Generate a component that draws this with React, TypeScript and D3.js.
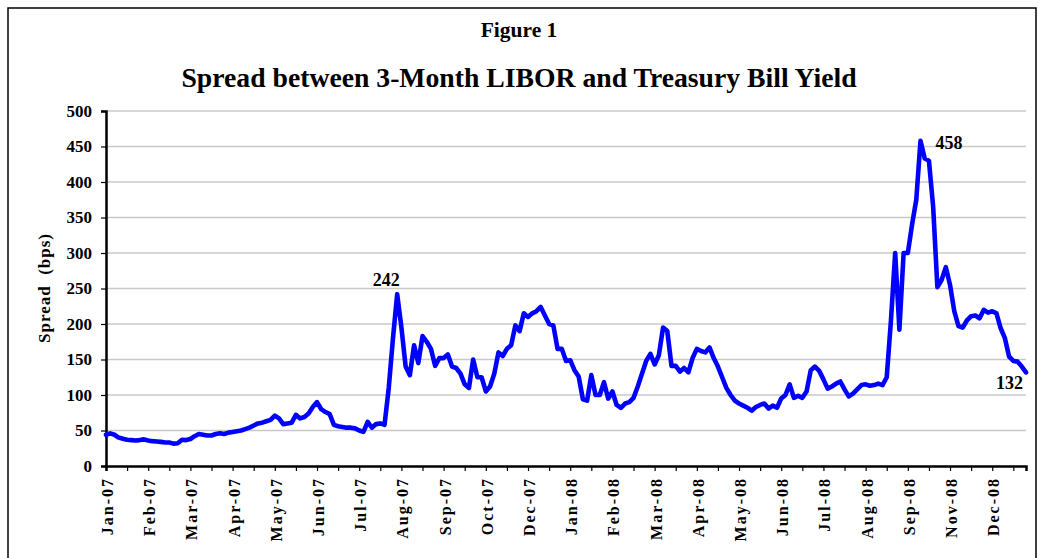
import { useEffect, useRef } from "react"
import * as d3 from "d3"

// month labels, one every 10 data points
const monthLabels = [
  "Jan-07", "Feb-07", "Mar-07", "Apr-07", "May-07", "Jun-07", "Jul-07", "Aug-07",
  "Sep-07", "Oct-07", "Dec-07", "Jan-08", "Feb-08", "Mar-08", "Apr-08", "May-08",
  "Jun-08", "Jul-08", "Aug-08", "Sep-08", "Nov-08", "Dec-08",
]

// spread in bps
const spread2007 = [
  44, 46, 44, 40, 38.5, 37, 36.5, 36, 36.5, 37.5,
  36, 35, 34.5, 34, 33, 33, 31.5, 32, 37, 36.5,
  38, 42, 45, 44, 43, 43, 45, 46, 45, 47,
  48, 49, 50, 52, 54, 57, 60, 61, 63, 65,
  71, 67, 59, 60, 61, 72, 67, 69, 74, 83,
  90, 80, 76, 73, 58, 56, 55, 54, 54, 53,
  50, 48, 62, 54, 59, 60, 58, 110, 180, 242,
  195, 140, 128, 170, 145, 183, 175, 165, 141, 152,
  152, 157, 140, 138, 130, 115, 110, 150, 125, 125,
  105, 112, 130, 160, 155, 165, 170, 198, 190, 215,
  210, 215, 218, 224, 212, 200, 198, 165, 165, 148,
]
const spread2008 = [
  149, 135, 126, 94, 92, 128, 100, 100, 118, 95,
  105, 86, 82, 88, 90, 96, 112, 130, 148, 158,
  143, 156, 195, 190, 141, 141, 133, 138, 132, 152,
  165, 162, 160, 167, 152, 140, 125, 110, 100, 92,
  88, 85, 82, 78, 83, 86, 88, 81, 85, 82,
  95, 100, 115, 96, 99, 96, 105, 135, 140, 134,
  122, 109, 112, 116, 119, 108, 98, 102, 108, 114,
  115, 113, 114, 116, 114, 125, 205, 300, 192, 300,
  300, 340, 375, 458, 433, 430, 365, 252, 262, 280,
  255, 218, 197, 195, 205, 211, 212, 208, 220, 216,
  218, 215, 194, 180, 154, 148, 147, 140, 132,
]
const spread = [...spread2007, ...spread2008]

const yTicks = [0, 50, 100, 150, 200, 250, 300, 350, 400, 450, 500]

const W = 1039
const H = 558

const App = () => {
  const ref = useRef<SVGSVGElement>(null)

  useEffect(() => {
    if (!ref.current) return
    const svg = d3.select(ref.current)
    svg.selectAll("*").remove()

    const left = 106
    const right = 1026
    const top = 111
    const bottom = 466
    const font = "'Liberation Serif', 'Times New Roman', serif"

    const x = d3.scaleLinear().domain([0, spread.length - 1]).range([left, right])
    const y = d3.scaleLinear().domain([0, 500]).range([bottom, top])

    // frame
    svg.append("rect")
      .attr("x", 8).attr("y", 8)
      .attr("width", 1028).attr("height", 560)
      .attr("fill", "white").attr("stroke", "black").attr("stroke-width", 1.5)

    svg.append("text")
      .attr("x", 519).attr("y", 37)
      .attr("text-anchor", "middle")
      .attr("font-family", font).attr("font-weight", "bold").attr("font-size", 21.5)
      .text("Figure 1")

    svg.append("text")
      .attr("x", 519).attr("y", 87)
      .attr("text-anchor", "middle")
      .attr("font-family", font).attr("font-weight", "bold").attr("font-size", 27.7)
      .text("Spread between 3-Month LIBOR and Treasury Bill Yield")

    // grid
    svg.append("g")
      .selectAll("line")
      .data(yTicks.filter((d) => d > 0))
      .join("line")
      .attr("x1", left).attr("x2", right)
      .attr("y1", (d) => y(d)).attr("y2", (d) => y(d))
      .attr("stroke", "#c8c8c8").attr("stroke-width", 1.6)

    // y axis
    const yAxis = svg.append("g")
      .attr("transform", `translate(${left},0)`)
      .call(d3.axisLeft(y).tickValues(yTicks).tickSize(5).tickPadding(9))
    yAxis.select(".domain").attr("stroke-width", 2.5)
    yAxis.selectAll(".tick line").attr("stroke-width", 1.2)
    yAxis.selectAll("text")
      .attr("font-family", font).attr("font-weight", "bold").attr("font-size", 17)
      .attr("fill", "black")

    // x axis, tick every 5 points, label every 10
    const xTicks = d3.range(0, spread.length, 5)
    const xAxis = svg.append("g")
      .attr("transform", `translate(0,${bottom})`)
      .call(d3.axisBottom(x).tickValues(xTicks).tickSize(5).tickFormat(() => ""))
    xAxis.select(".domain").attr("stroke-width", 2.5)
    xAxis.selectAll(".tick line").attr("stroke-width", 1.2)

    svg.append("g")
      .selectAll("text")
      .data(monthLabels)
      .join("text")
      .attr("transform", (_, i) => `translate(${x(i * 10) + 7},${bottom + 11}) rotate(-90)`)
      .attr("text-anchor", "end")
      .attr("font-family", font).attr("font-weight", "bold").attr("font-size", 16)
      .attr("letter-spacing", 2)
      .text((d) => d)

    svg.append("text")
      .attr("transform", `translate(50,288) rotate(-90)`)
      .attr("text-anchor", "middle")
      .attr("font-family", font).attr("font-weight", "bold").attr("font-size", 17)
      .attr("letter-spacing", 1)
      .attr("xml:space", "preserve")
      .style("white-space", "pre")
      .text("Spread  (bps)")

    // the series
    const line = d3.line<number>()
      .x((_, i) => x(i))
      .y((d) => y(d))
    svg.append("path")
      .datum(spread)
      .attr("d", line)
      .attr("fill", "none")
      .attr("stroke", "#0000ff")
      .attr("stroke-width", 4.6)
      .attr("stroke-linejoin", "round")
      .attr("stroke-linecap", "round")

    // annotations
    const i2007 = d3.maxIndex(spread2007)
    const iMax = d3.maxIndex(spread)
    const iLast = spread.length - 1
    const note = (txt: string, px: number, py: number, anchor: string) =>
      svg.append("text")
        .attr("x", px).attr("y", py)
        .attr("text-anchor", anchor)
        .attr("font-family", font).attr("font-weight", "bold").attr("font-size", 18)
        .text(txt)
    note(String(spread[i2007]), x(i2007) - 11, y(spread[i2007]) - 8, "middle")
    note(String(spread[iMax]), x(iMax) + 15, y(spread[iMax]) + 8, "start")
    note(String(spread[iLast]), x(iLast) - 3, y(spread[iLast]) + 17, "end")
  }, [])

  return (
    <svg
      ref={ref}
      width={W}
      height={H}
      viewBox={`0 0 ${W} ${H}`}
      style={{ position: "absolute", left: 0, top: 0, background: "white" }}
    />
  )
}

export default App
